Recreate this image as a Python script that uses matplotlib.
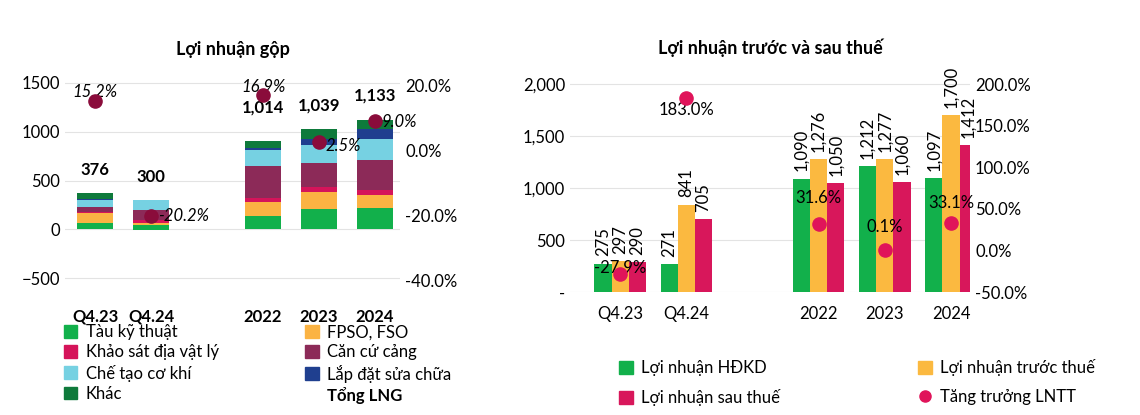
import matplotlib
matplotlib.use("Agg")
import matplotlib.pyplot as plt
from matplotlib.lines import Line2D
from matplotlib.patches import Patch
import numpy as np

plt.rcParams["font.family"] = "Lato"

cats = ["Q4.23", "Q4.24", "2022", "2023", "2024"]
xpos = np.array([0, 1, 3, 4, 5])

seg_names = ["Tàu kỹ thuật", "FPSO, FSO", "Khảo sát địa vật lý", "Căn cứ cảng",
             "Chế tạo cơ khí", "Lắp đặt sửa chữa", "Khác"]
tau = [65, 40, 137, 209, 219]
fpso = [100, 27, 140, 171, 130]
khaosat = [17, 27, 48, 51, 58]
cancu = [48, 100, 321, 253, 308]
chetao = [75, 103, 164, 178, 209]
lapdat = [5, 0, 27, 65, 109]
khac = [66, 0, 68, 106, 92]
tau_neg = [0, -10, 0, 0, 0]
tong_lng = [376, 300, 1014, 1039, 1133]
gp_growth = [15.2, -20.2, 16.9, 2.5, 9.0]

ln_hdkd = [275, 271, 1090, 1212, 1097]
ln_truoc = [297, 841, 1276, 1277, 1700]
ln_sau = [290, 705, 1050, 1060, 1412]
tt_lntt = [-27.9, 183.0, 31.6, 0.1, 33.1]

seg_colors = ["#12b04b", "#fbb343", "#d5145a", "#8c2a58", "#76d1e2", "#1f3f8f", "#0e7a3b"]
grid_c = "#e3e3e3"

fig = plt.figure(figsize=(11.4, 4.15), dpi=100)

# ---------- left chart ----------
ax = fig.add_axes([0.057, 0.283, 0.294, 0.564])
segs = [tau, fpso, khaosat, cancu, chetao, lapdat, khac]
bottom = np.zeros(5)
for s, c in zip(segs, seg_colors):
    ax.bar(xpos, s, 0.64, bottom=bottom, color=c, zorder=2)
    bottom += np.array(s)
ax.bar(xpos, tau_neg, 0.64, color=seg_colors[0], zorder=2)
for x, t in zip(xpos, tong_lng):
    ax.text(x, t + 235, f"{t:,}", ha="center", va="center", fontsize=12, fontweight="bold")
ax.set_ylim(-700, 1700)
ax.set_xlim(-0.54, 5.45)
ax.set_yticks([-500, 0, 500, 1000, 1500])
ax.set_xticks(xpos)
ax.set_xticklabels(cats, fontweight="bold", fontsize=12)
ax.tick_params(axis="both", length=0, labelsize=12)
ax.tick_params(axis="x", labelsize=12, pad=8)
ax.grid(axis="y", color=grid_c, zorder=0)
for sp in ax.spines.values():
    sp.set_visible(False)
ax.set_title("Lợi nhuận gộp", fontsize=13, fontweight="bold", pad=6)
ax2 = ax.twinx()
ax2.set_ylim(-45.2, 26.6)
ax2.scatter(xpos, gp_growth, s=90, color="#8a0c3b", zorder=5)
ax2.set_yticks([-40, -20, 0, 20])
ax2.set_yticklabels([f"{v:.1f}%" for v in [-40, -20, 0, 20]])
ax2.tick_params(length=0, labelsize=12)
for sp in ax2.spines.values():
    sp.set_visible(False)
offs = [(0, 2.6, "center"), (0.12, 0, "left"), (0, 2.6, "center"), (0.12, -1.3, "left"), (0.12, -0.2, "left")]
for x, g, (dx, dy, ha) in zip(xpos, gp_growth, offs):
    ax2.text(x + dx, g + dy, f"{g:.1f}%", ha=ha, va="center", fontsize=12, style="italic")

h_left = [Patch(color=seg_colors[0]), Patch(color=seg_colors[2]), Patch(color=seg_colors[4]),
          Patch(color=seg_colors[6]), Patch(color=seg_colors[1]), Patch(color=seg_colors[3]),
          Patch(color=seg_colors[5]), Patch(color="none")]
l_left = [seg_names[0], seg_names[2], seg_names[4], seg_names[6],
          seg_names[1], seg_names[3], seg_names[5], "Tổng LNG"]
leg = fig.legend(h_left, l_left, ncol=2, loc="upper left", bbox_to_anchor=(0.043, 0.255),
                 frameon=False, fontsize=12, handlelength=0.8, handleheight=0.8,
                 handletextpad=0.5, columnspacing=5.2, labelspacing=0.25)
leg.get_texts()[-1].set_fontweight("bold")

# ---------- right chart ----------
bx = fig.add_axes([0.5, 0.296, 0.351, 0.514])
w = 0.26
series = [(ln_hdkd, "#12b04b", -w), (ln_truoc, "#fbb940", 0), (ln_sau, "#d8175b", w)]
for vals, c, dx in series:
    bx.bar(xpos + dx, vals, w, color=c, zorder=2)
    for x, v in zip(xpos, vals):
        bx.text(x + dx, v + 70, f"{v:,}", rotation=90, ha="center", va="bottom", fontsize=12)
bx.set_ylim(0, 2050)
bx.set_xlim(-0.76, 5.29)
bx.set_yticks([0, 500, 1000, 1500, 2000])
bx.set_yticklabels(["-", "500", "1,000", "1,500", "2,000"])
bx.set_xticks(xpos)
bx.set_xticklabels(cats)
bx.tick_params(length=0, labelsize=12)
bx.tick_params(axis="x", pad=10)
bx.grid(axis="y", color=grid_c, zorder=0)
for sp in bx.spines.values():
    sp.set_visible(False)
bx.set_title("Lợi nhuận trước và sau thuế", fontsize=13, fontweight="bold", pad=18)
bx2 = bx.twinx()
bx2.set_ylim(-50, 206.25)
bx2.scatter(xpos, tt_lntt, s=90, color="#e0145a", zorder=5)
bx2.set_yticks([-50, 0, 50, 100, 150, 200])
bx2.set_yticklabels([f"{v:.1f}%" for v in [-50, 0, 50, 100, 150, 200]])
bx2.tick_params(length=0, labelsize=12)
for sp in bx2.spines.values():
    sp.set_visible(False)
dys = [7, -14, 31, 28, 24]
for x, g, dy in zip(xpos, tt_lntt, dys):
    bx2.text(x, g + dy, f"{g:.1f}%", ha="center", va="center", fontsize=12)

h_right = [Patch(color="#12b04b"), Patch(color="#d8175b"), Patch(color="#fbb940"),
           Line2D([], [], marker="o", ls="", color="#e0145a", markersize=8)]
l_right = ["Lợi nhuận HĐKD", "Lợi nhuận sau thuế", "Lợi nhuận trước thuế", "Tăng trưởng LNTT"]
fig.legend(h_right, l_right, ncol=2, loc="upper left", bbox_to_anchor=(0.53, 0.17),
           frameon=False, fontsize=12, handlelength=0.8, handleheight=0.8,
           handletextpad=0.5, columnspacing=8.3, labelspacing=0.75)

fig.savefig("out.png", dpi=100)
